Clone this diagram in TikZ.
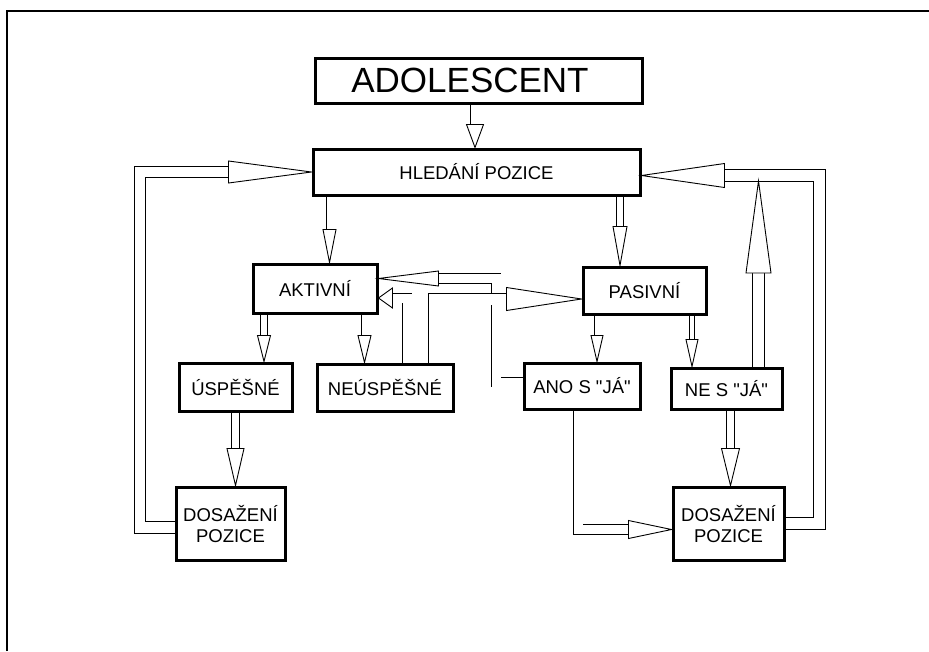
\documentclass[tikz,border=0pt]{standalone}
\usepackage{fontspec}
\setmainfont{Liberation Sans}[Ligatures=TeXOff]
\usetikzlibrary{positioning,calc,backgrounds,decorations.markings}

\tikzset{
  box/.style={draw, line width=3pt, inner sep=0pt, align=center,
    font=\fontsize{18.5}{21}\selectfont},
  hollow/.style n args={3}{
    preaction={draw, line width=0.9pt, double, double distance=#1, shorten >=#2pt},
    postaction={decorate, decoration={markings,
      mark=at position 1 with {\draw[line width=0.9pt, fill=white]
        (0,0) -- (-#2,#3/2) -- (-#2,-#3/2) -- cycle;}}}}
}

\begin{document}
\begin{tikzpicture}[x=1pt, y=-1pt]
\useasboundingbox (0,0) rectangle (929,651);

% frame
\draw[line width=1.5pt] (7,651) -- (7,11) -- (929,11);

\node[box, minimum width=327pt, minimum height=45pt, font=\fontsize{35}{40}\selectfont] (adol) at (478.5,80.5) {ADOLESCENT\hspace{17pt}};
\node[box, minimum width=327pt, minimum height=46pt] (hled) at (476.5,172) {HLEDÁNÍ POZICE};
\node[box, minimum width=124pt, minimum height=49pt] (akt) at (315,288.5) {AKTIVNÍ};
\node[box, minimum width=123pt, minimum height=47pt] (pas) at (644.5,290.5) {PASIVNÍ};
\node[box, minimum width=113pt, minimum height=48pt] (usp) at (235.5,387) {ÚSPĚŠNÉ};
\node[box, minimum width=136pt, minimum height=47pt] (neusp) at (385,387.5) {NEÚSPĚŠNÉ};
\node[box, minimum width=116pt, minimum height=46pt] (ano) at (582,386) {ANO S "JÁ"};
\node[box, minimum width=111pt, minimum height=41pt] (ne) at (726.5,388.5) {NE S "JÁ"};
\node[box, minimum width=109pt, minimum height=73pt] (dosL) at (230.5,523.5) {DOSAŽENÍ\\POZICE};
\node[box, minimum width=111pt, minimum height=73pt] (dosR) at (728.5,523.5) {DOSAŽENÍ\\POZICE};

\coordinate (rtop) at ([xshift=178pt,yshift=-3.5pt]hled.east);
\coordinate (upend) at ([xshift=-61pt,yshift=-5.5pt]rtop);

\begin{scope}[on background layer]
% straight down
\path[hollow={9pt}{23}{17}] ([xshift=-3.5pt]adol.south) -- ([xshift=-3.5pt]adol.south |- hled.north);
\path[hollow={6pt}{33}{13}] ([xshift=14.5pt]akt.north |- hled.south) -- ([xshift=14.5pt]akt.north);
\path[hollow={5.5pt}{39}{14}] ([xshift=-24.5pt]pas.north |- hled.south) -- ([xshift=-24.5pt]pas.north);
\path[hollow={6pt}{26}{13}] ([xshift=28.5pt]usp.north |- akt.south) -- ([xshift=28.5pt]usp.north);
\path[hollow={6pt}{27}{13}] ([xshift=-20.5pt]neusp.north |- akt.south) -- ([xshift=-20.5pt]neusp.north);
\path[hollow={5pt}{26}{12}] ([xshift=15pt]ano.north |- pas.south) -- ([xshift=15pt]ano.north);
\path[hollow={4.5pt}{27}{12}] ([xshift=-34.5pt]ne.north |- pas.south) -- ([xshift=-34.5pt]ne.north);
\path[hollow={6.5pt}{37}{17}] (usp.south) -- (usp.south |- dosL.north);
\path[hollow={6.5pt}{37}{18}] ([xshift=4pt]ne.south) -- ([xshift=4pt]ne.south |- dosR.north);
\path[hollow={9pt}{43}{18}] ([xshift=-4pt]ano.south) |- ([yshift=-6pt]dosR.west);
% back to AKTIVNI / PASIVNI
\path[hollow={9pt}{60}{15}] ([yshift=4pt]ano.west) -| ([xshift=117.5pt,yshift=10pt]akt.east) -- ([yshift=10pt]akt.east);
\path[hollow={9pt}{14}{20}] ([xshift=22pt]neusp.north) |- ([yshift=-9.5pt]akt.east);
\path[hollow={11pt}{75}{23}] ([xshift=49pt]neusp.north) |- ([yshift=-8.5pt]pas.west);
% feedback loops
\path[hollow={10.5pt}{83}{22}] ([yshift=-4pt]dosL.west) -| ([xshift=-171.5pt]hled.west) -- (hled.west);
\path[hollow={10.5pt}{83}{24}] (dosR.east) -| (rtop) -- (hled.east |- rtop);
\path[hollow={11pt}{92}{25}] (ne.north -| upend) -- (upend);
\end{scope}
\end{tikzpicture}
\end{document}
